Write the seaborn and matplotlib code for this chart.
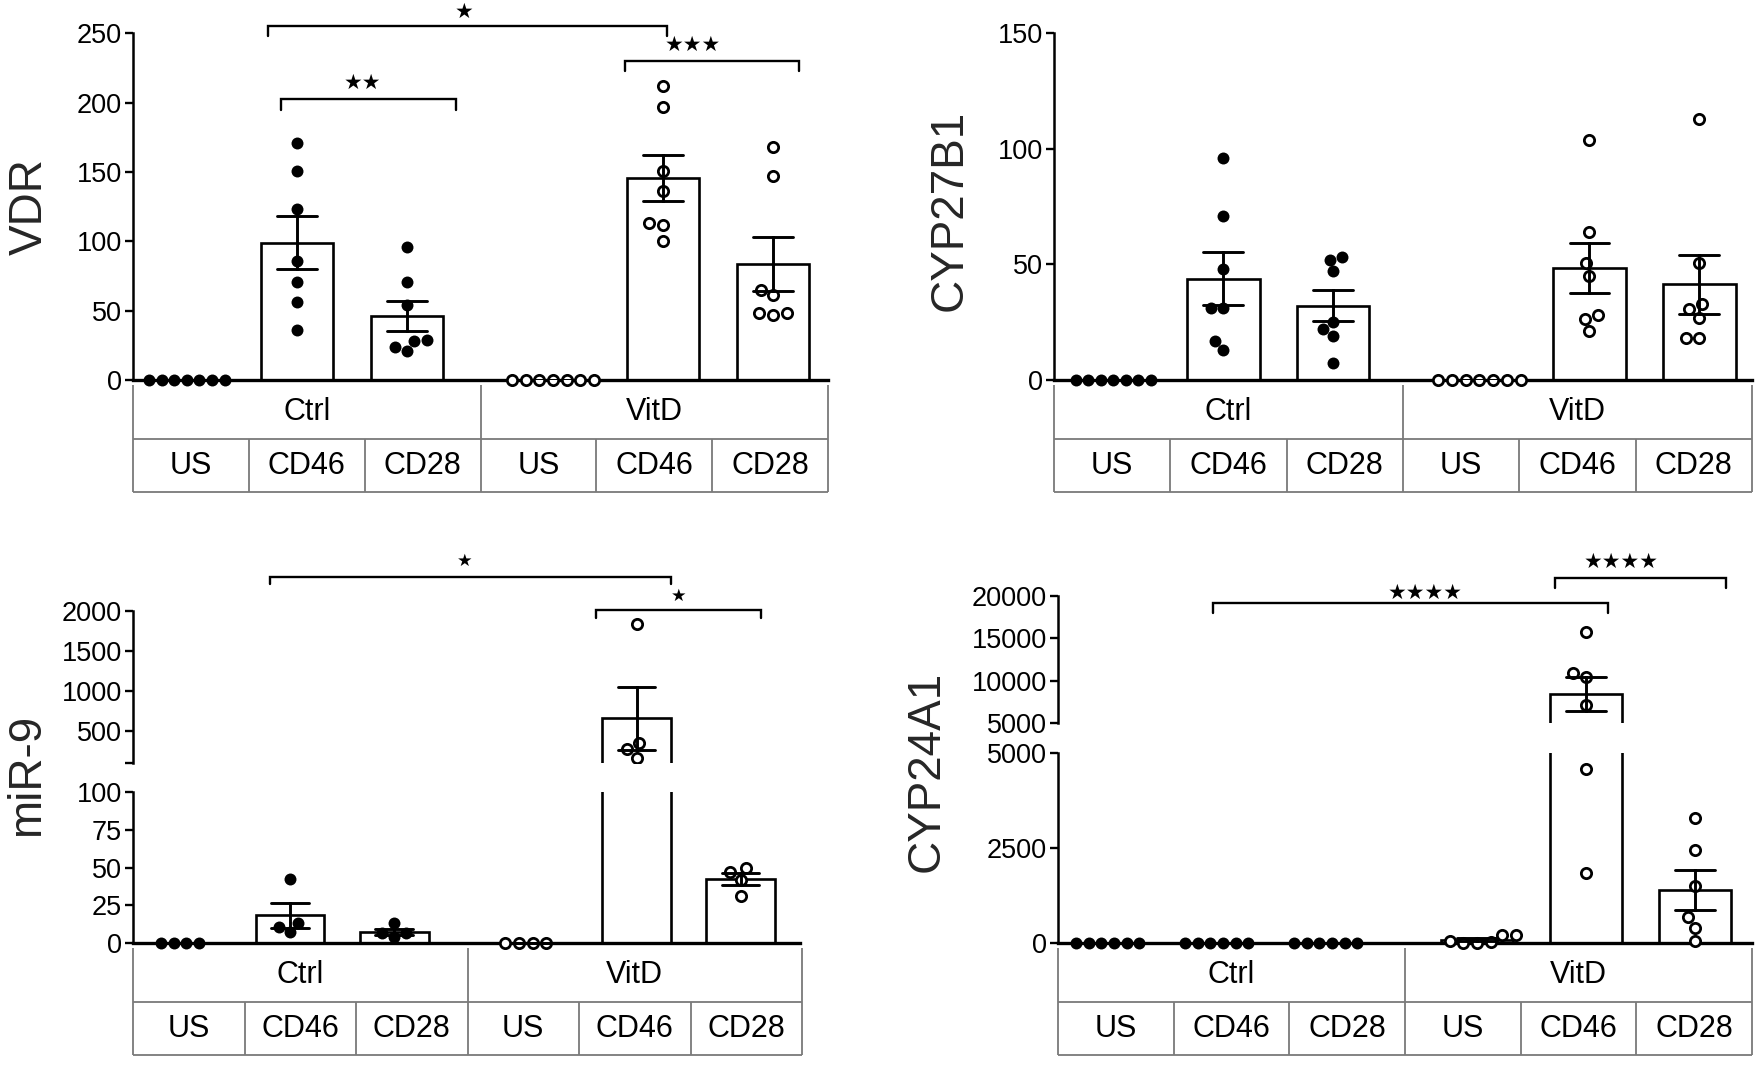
import warnings
warnings.filterwarnings("ignore")
import numpy as np
import pandas as pd
import matplotlib
matplotlib.use("Agg")
import matplotlib.pyplot as plt
from matplotlib import font_manager
import seaborn as sns

# ---------------- data ----------------
treatments = ["Ctrl", "Ctrl", "Ctrl", "VitD", "VitD", "VitD"]
stimuli = ["US", "CD46", "CD28", "US", "CD46", "CD28"]
table_groups = ["Ctrl", "VitD"]

vdr_ctrl_us = [0, 0, 0, 0, 0, 0, 0]
vdr_ctrl_cd46 = [171, 151, 123, 86, 71, 56, 36]
vdr_ctrl_cd28 = [96, 71, 54, 29, 24, 21, 28]
vdr_vitd_us = [0, 0, 0, 0, 0, 0, 0]
vdr_vitd_cd46 = [212, 197, 151, 136, 113, 112, 100]
vdr_vitd_cd28 = [168, 147, 65, 61, 48, 48, 47]

cyp27_ctrl_us = [0, 0, 0, 0, 0, 0, 0]
cyp27_ctrl_cd46 = [96, 71, 48, 31, 31, 17, 13]
cyp27_ctrl_cd28 = [53, 52, 47, 25, 22, 19, 7.5]
cyp27_vitd_us = [0, 0, 0, 0, 0, 0, 0]
cyp27_vitd_cd46 = [104, 64, 50.5, 45, 28, 26.4, 21]
cyp27_vitd_cd28 = [113, 50.5, 33, 30.6, 26.7, 18, 18]

mir9_ctrl_us = [0, 0, 0, 0]
mir9_ctrl_cd46 = [42.6, 13.2, 10.6, 7.3]
mir9_ctrl_cd28 = [6.5, 4, 6.5, 13.5]
mir9_vitd_us = [0, 0, 0, 0]
mir9_vitd_cd46 = [1838, 346, 271, 160]
mir9_vitd_cd28 = [50, 47, 42, 31]

cyp24_ctrl_us = [0, 0, 0, 0, 0, 0]
cyp24_ctrl_cd46 = [0, 0, 0, 0, 0, 0]
cyp24_ctrl_cd28 = [0, 0, 0, 0, 0, 0]
cyp24_vitd_us = [10, 60, 220, 230, 40, 20]
cyp24_vitd_cd46 = [15800, 10900, 10500, 7200, 4600, 1850]
cyp24_vitd_cd28 = [3300, 2450, 1500, 700, 400, 50]

# ---------------- layout ----------------
sns.set_theme(style="ticks")
plt.rcParams['font.family'] = ['Liberation Sans', 'DejaVu Sans']

_names = {f.name for f in font_manager.fontManager.ttflist}
if 'Liberation Sans Narrow' in _names:
    TICK_FAMILY, TICK_SIZE = ['Liberation Sans Narrow', 'Liberation Sans'], 22
else:
    TICK_FAMILY, TICK_SIZE = ['Liberation Sans', 'DejaVu Sans'], 19.5

W, H = 1761, 1066
fig = plt.figure(figsize=(W / 100, H / 100), dpi=100)
fig.patch.set_facecolor("white")

POS = [0, 1, 2, 3.33, 4.33, 5.33]   # group centres (Prism-like group gap)
STAR_FONT = ['DejaVu Sans']


def px_axes(x0, x1, ytop, ybot):
    ax = fig.add_axes([x0 / W, 1 - ybot / H, (x1 - x0) / W, (ybot - ytop) / H])
    ax.patch.set_alpha(0)
    return ax


def make_df(groups):
    rows = []
    for i, vals in enumerate(groups):
        for v in vals:
            rows.append(dict(pos=POS[i], val=v, treat=treatments[i]))
    return pd.DataFrame(rows)


def draw(ax, df, ymin_pts=None, pt_size=8.6):
    sns.barplot(data=df, x="pos", y="val", native_scale=True, color="white",
                saturation=1, edgecolor="black", linewidth=1.9, width=0.66,
                errorbar="se", capsize=0.36,
                err_kws=dict(color="black", linewidth=2.1, zorder=4), ax=ax)
    d = df if ymin_pts is None else df[df.val >= ymin_pts]
    c = d[d.treat == "Ctrl"]
    v = d[d.treat == "VitD"]
    if len(c):
        sns.swarmplot(data=c, x="pos", y="val", native_scale=True, color="black",
                      size=pt_size, linewidth=0, ax=ax, zorder=3)
    if len(v):
        sns.swarmplot(data=v, x="pos", y="val", native_scale=True, color="white",
                      edgecolor="black", linewidth=2.0, size=pt_size - 1.2,
                      ax=ax, zorder=3)


def style(ax, xlim, ylim, ticks, labels, bottom=True, lbound=None):
    ax.set_xlim(*xlim)
    ax.set_ylim(*ylim)
    ax.set_xticks([])
    ax.set_xlabel("")
    ax.set_ylabel("")
    ax.set_yticks(ticks)
    ax.set_yticklabels(labels, family=TICK_FAMILY, fontsize=TICK_SIZE)
    ax.spines['top'].set_visible(False)
    ax.spines['right'].set_visible(False)
    ax.spines['left'].set_linewidth(1.8)
    ax.spines['left'].set_color("black")
    if bottom:
        ax.spines['bottom'].set_linewidth(2.4)
        ax.spines['bottom'].set_color("black")
        ax.spines['bottom'].set_position(('data', 0))
    else:
        ax.spines['bottom'].set_visible(False)
    if lbound is not None:
        ax.spines['left'].set_bounds(*lbound)
    ax.tick_params(axis='y', length=6, width=1.7, pad=2,
                   colors="black", left=True, direction='out')
    ax.tick_params(axis='x', bottom=False)
    ax.grid(False)


def table(ax):
    ax.set_xlim(0, 6)
    ax.set_ylim(0, 2)
    ax.axis('off')
    kw = dict(color="#7a7a7a", lw=1.3, clip_on=False, solid_capstyle='butt')
    for x in (0, 3, 6):
        ax.plot([x, x], [0, 2], **kw)
    for x in (1, 2, 4, 5):
        ax.plot([x, x], [0, 1], **kw)
    ax.plot([0, 6], [1, 1], **kw)
    ax.plot([0, 6], [0, 0], **kw)
    for i, g in enumerate(table_groups):
        ax.text(1.5 + 3 * i, 1.5, g, ha="center", va="center", fontsize=22, color="black")
    for i, s in enumerate(stimuli):
        ax.text(i + 0.5, 0.48, s, ha="center", va="center", fontsize=22, color="black")


def bracket(ax, x1, x2, y, drop, label, lx, ly, fs=15):
    ax.plot([x1, x1, x2, x2], [y - drop, y, y, y - drop], color="black", lw=1.7,
            clip_on=False, solid_joinstyle='miter')
    ax.text(lx, ly, label, ha="center", va="center", fontsize=fs,
            family=STAR_FONT, color="black", clip_on=False)


def unclip(ax):
    for coll in ax.collections:
        coll.set_clip_on(False)


# ---------------- VDR (top left) ----------------
ax = px_axes(133, 828, 33.3, 380)
df = make_df([vdr_ctrl_us, vdr_ctrl_cd46, vdr_ctrl_cd28, vdr_vitd_us, vdr_vitd_cd46, vdr_vitd_cd28])
draw(ax, df)
style(ax, (-0.49, 5.83), (0, 250), [0, 50, 100, 150, 200, 250],
      ["0", "50", "100", "150", "200", "250"])
unclip(ax)
bracket(ax, 0.74, 4.37, 255, 7, "★", 2.52, 265.5)
bracket(ax, 0.855, 2.445, 202.3, 7.6, "★★", 1.6, 214)
bracket(ax, 3.98, 5.57, 230, 7, "★★★", 4.6, 241.5)
table(px_axes(133, 828, 385, 492))
fig.text(30 / W, 1 - 207 / H, "VDR", rotation=90, ha="center", va="center", fontsize=33)

# ---------------- CYP27B1 (top right) ----------------
ax = px_axes(1054, 1752, 33.3, 380)
df = make_df([cyp27_ctrl_us, cyp27_ctrl_cd46, cyp27_ctrl_cd28, cyp27_vitd_us, cyp27_vitd_cd46, cyp27_vitd_cd28])
draw(ax, df)
style(ax, (-0.54, 5.81), (0, 150), [0, 50, 100, 150], ["0", "50", "100", "150"])
unclip(ax)
table(px_axes(1054, 1752, 385, 492))
fig.text(950 / W, 1 - 210 / H, "CYP27B1", rotation=90, ha="center", va="center", fontsize=33)

# ---------------- miR-9 (bottom left, broken axis) ----------------
df = make_df([mir9_ctrl_us, mir9_ctrl_cd46, mir9_ctrl_cd28, mir9_vitd_us, mir9_vitd_cd46, mir9_vitd_cd28])
ax_lo = px_axes(133, 800, 791.7, 949.4)
draw(ax_lo, df)
style(ax_lo, (-0.51, 5.90), (-4, 100), [0, 25, 50, 75, 100],
      ["0", "25", "50", "75", "100"], lbound=(0, 100))
ax_hi = px_axes(133, 800, 611, 762.7)
draw(ax_hi, df, ymin_pts=100)
style(ax_hi, (-0.51, 5.90), (100, 2000), [100, 500, 1000, 1500, 2000],
      ["", "500", "1000", "1500", "2000"], bottom=False)
bracket(ax_hi, 0.81, 4.66, 2429, 92, "★", 2.68, 2625, fs=12.5)
bracket(ax_hi, 3.94, 5.53, 2012, 103, "★", 4.73, 2190, fs=12.5)
table(px_axes(133, 802, 948, 1055))
fig.text(27 / W, 1 - 775 / H, "miR-9", rotation=90, ha="center", va="center", fontsize=33)

# ---------------- CYP24A1 (bottom right, broken axis) ----------------
df = make_df([cyp24_ctrl_us, cyp24_ctrl_cd46, cyp24_ctrl_cd28, cyp24_vitd_us, cyp24_vitd_cd46, cyp24_vitd_cd28])
ax_lo = px_axes(1058, 1752, 753.3, 949.4)
draw(ax_lo, df)
style(ax_lo, (-0.514, 5.853), (-160, 5000), [0, 2500, 5000],
      ["0", "2500", "5000"], lbound=(0, 5000))
ax_hi = px_axes(1058, 1752, 596, 723.3)
draw(ax_hi, df, ymin_pts=5000)
style(ax_hi, (-0.514, 5.853), (5000, 20000), [5000, 10000, 15000, 20000],
      ["5000", "10000", "15000", "20000"], bottom=False)
bracket(ax_hi, 0.905, 4.53, 19140, 1140, "★★★★", 2.85, 20389)
bracket(ax_hi, 4.05, 5.61, 22121, 1180, "★★★★", 4.65, 24065)
table(px_axes(1058, 1752, 948, 1055))
fig.text(927 / W, 1 - 771 / H, "CYP24A1", rotation=90, ha="center", va="center", fontsize=33)

fig.savefig("out.png", dpi=100, facecolor="white")
